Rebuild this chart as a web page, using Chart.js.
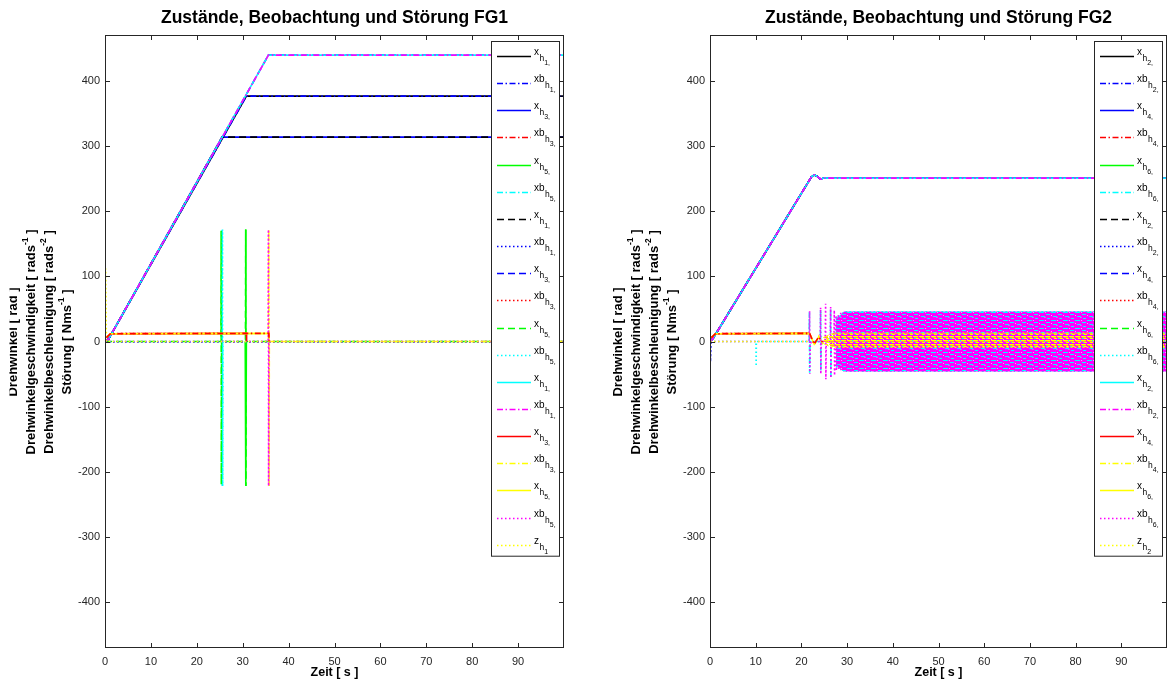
<!DOCTYPE html>
<html>
<head>
<meta charset="utf-8">
<script src="https://cdn.jsdelivr.net/npm/chart.js@4.4.0/dist/chart.umd.min.js"></script>
<style>
  html, body { margin: 0; padding: 0; background: #fff; }
  #wrap { position: relative; width: 1167px; height: 684px; overflow: hidden; }
  canvas { position: absolute; top: 0; }
  #fg1 { left: 0; }
  #fg2 { left: 583px; }
</style>
</head>
<body>
<div id="wrap">
  <canvas id="fg1" width="583" height="684"></canvas>
  <canvas id="fg2" width="584" height="684"></canvas>
</div>
<script>
// axes
const xTicks = [0, 10, 20, 30, 40, 50, 60, 70, 80, 90];
const yTicks = [-400, -300, -200, -100, 0, 100, 200, 300, 400];
const xLimits = [0, 100];
const yLimits = [-471, 471];

// legend text: symbol + joint index (x_{h_{1,}})
const legendSymbols = ['x', 'xb', 'x', 'xb', 'x', 'xb', 'x', 'xb', 'x', 'xb', 'x', 'xb', 'x', 'xb', 'x', 'xb', 'x', 'xb', 'z'];
const fg1Joints = ['1,', '1,', '3,', '3,', '5,', '5,', '1,', '1,', '3,', '3,', '5,', '5,', '1,', '1,', '3,', '3,', '5,', '5,', '1'];
const fg2Joints = ['2,', '2,', '4,', '4,', '6,', '6,', '2,', '2,', '4,', '4,', '6,', '6,', '2,', '2,', '4,', '4,', '6,', '6,', '2'];

// line styles (matlab style strings)
const lineColors = ['#000000', '#0000ff', '#0000ff', '#ff0000', '#00ff00', '#00ffff',
                    '#000000', '#0000ff', '#0000ff', '#ff0000', '#00ff00', '#00ffff',
                    '#00ffff', '#ff00ff', '#ff0000', '#ffff00', '#ffff00', '#ff00ff', '#ffff00'];
const lineStyles = ['-', '-.', '-', '-.', '-', '-.', '--', ':', '--', ':', '--', ':', '-', '-.', '-', '-.', '-', ':', ':'];
const dashes = { '-': [], '--': [7, 4], ':': [1.5, 2.5], '-.': [6, 2.5, 1.5, 2.5] };

// ---------- FG1 data, [t (s), value] ----------
const fg1_xh1 = [[0, 0], [0.8, 4], [30.8, 377], [100, 377]];
const fg1_xbh1 = [[0, 0], [0.8, 4], [30.8, 377], [100, 377]];
const fg1_xh3 = [[0, 0], [0.8, 4], [25.5, 314], [100, 314]];
const fg1_xbh3 = [[0.3, 6], [1.2, 12], [35.7, 12.5], [35.75, 0]];
const fg1_xh5 = [[30.55, 0], [30.65, 172], [30.7, -222], [30.8, 0]];
const fg1_xbh5 = [[25.45, 0], [25.5, 172], [25.55, -222], [25.6, 0]];
const fg1_xh1_2 = [[0, 0], [0.8, 4], [25.5, 314], [100, 314]];
const fg1_xbh1_2 = [[0, -1], [100, -1]];
const fg1_xh3_2 = [[0, 0], [0.8, 4], [35.6, 440], [100, 440]];
const fg1_xbh3_2 = [[0.3, 6], [1.2, 12], [25.5, 12.5], [25.6, 0], [100, 0]];
const fg1_xh5_2 = [[0, 0], [25.25, 0], [25.3, 170], [25.34, -220], [25.4, 0], [30.6, 0], [30.65, 172], [30.7, -222],
                   [30.75, 0], [100, 0]];
const fg1_xbh5_2 = [[0, 0], [25.55, 0], [25.6, 172], [25.65, -222], [25.7, 0], [100, 0]];
const fg1_xh1_3 = [[0, 0], [0.8, 4], [35.6, 440], [100, 440]];
const fg1_xbh1_3 = [[0, 0], [0.8, 4], [35.6, 440], [100, 440]];
const fg1_xh3_3 = [[0.3, 6], [1.2, 12], [30.8, 12.5], [30.85, 0]];
const fg1_xbh3_3 = [[35.6, 0], [35.68, 172], [35.75, -222], [35.8, 0], [100, 0]];
const fg1_xh5_3 = [[0.3, 6], [1.2, 12], [35.7, 12.5], [35.75, 0]];
const fg1_xbh5_3 = [[0, 0], [35.55, 0], [35.6, 172], [35.64, -222], [35.7, 0], [100, 0]];
const fg1_zh1 = [[0.15, 0], [0.15, 112], [0.3, 0], [100, 0]];

// ---------- FG2 data, [t (s), value] ----------
const fg2_xh2 = [[0, 0], [0.7, 5], [21.5, 245], [22.2, 253], [22.8, 256], [23.4, 254], [24.2, 249.5], [25, 251.5], [26, 251], [100, 251]];
const fg2_xbh2 = fg2_xh2;
const fg2_xh4 = fg2_xh2;
const fg2_xbh4 = [[0.3, 6], [1.2, 12], [21.8, 12.5], [22.8, -4], [23.8, 7], [24.6, -1]];
const fg2_xh6 = [[29.5, 0], [100, 0]];
const fg2_xbh6 = [[21.7, 0], [21.75, 45], [21.8, -48], [21.9, 0], [24.15, 0], [24.2, 48], [24.25, -46], [24.3, 0],
                  [26.35, 0], [26.4, 50], [26.45, -54], [26.5, 0], [27.65, 0], [27.7, 38], [27.75, -40], [28.2, 36],
                  [28.25, -38], [28.7, 40], [28.75, -42], [29.2, 44], [29.25, -45]];
const fg2_xh2_2 = fg2_xh2;
const fg2_xbh2_2 = [[0, 15], [0.1, -31], [0.25, 0]];
const fg2_xh4_2 = fg2_xh2;
const fg2_xbh4_2 = [[0.3, 6], [1.2, 12], [21.8, 12.5]];
const fg2_xh6_2 = [[29.5, 0], [100, 0]];
const fg2_xbh6_2 = [[0, 0], [10.05, 0], [10.1, -38], [10.15, 0], [21.8, 0]];
const fg2_xh2_3 = fg2_xh2;
const fg2_xbh2_3 = fg2_xh2;
const fg2_xh4_3 = [[0.3, 6], [1.2, 12], [21.8, 12.5]];
const fg2_xbh4_3 = [[21.8, 12], [22.8, -5], [23.8, 8], [24.6, -3], [25.5, 6], [26.5, -4], [27.5, 6], [28.5, -5], [29.5, 4]];
const fg2_xh6_3 = [[0.3, 6], [1.2, 12], [21.8, 12.5], [22.8, -4], [23.8, 7], [24.6, -2]];
const fg2_xbh6_3 = [[0, 0], [21.7, 0], [21.8, 47], [21.85, -50], [21.95, -2], [24.1, 0], [24.2, 52], [24.25, -50], [24.35, 0],
                    [25.2, 0], [25.3, 58], [25.35, -58], [25.45, 0], [26.3, 0], [26.4, 53], [26.45, -56], [26.55, 0],
                    [27.1, -5], [27.2, 48], [27.25, -52], [27.6, 40], [27.65, -45], [28.1, 42], [28.15, -44],
                    [28.6, 44], [28.65, -46], [29.1, 46], [29.15, -46]];
const fg2_zh2 = [[0, 0], [21.8, 0]];

// oscillation band after ~29 s (envelope) and the yellow core inside it
const fg2_bandTime = [27.6, 28.5, 29.3, 100];
const fg2_bandUpper = [35, 40, 46, 46];
const fg2_bandLower = [-36, -42, -46, -46];
const fg2_coreTime = [24.8, 26, 27, 100];
const fg2_coreUpper = [6, 10, 13, 13];
const fg2_coreLower = [-3, -7, -9, -9];

const fg1Series = [fg1_xh1, fg1_xbh1, fg1_xh3, fg1_xbh3, fg1_xh5, fg1_xbh5, fg1_xh1_2, fg1_xbh1_2, fg1_xh3_2, fg1_xbh3_2,
                   fg1_xh5_2, fg1_xbh5_2, fg1_xh1_3, fg1_xbh1_3, fg1_xh3_3, fg1_xbh3_3, fg1_xh5_3, fg1_xbh5_3, fg1_zh1];
const fg2Series = [fg2_xh2, fg2_xbh2, fg2_xh4, fg2_xbh4, fg2_xh6, fg2_xbh6, fg2_xh2_2, fg2_xbh2_2, fg2_xh4_2, fg2_xbh4_2,
                   fg2_xh6_2, fg2_xbh6_2, fg2_xh2_3, fg2_xbh2_3, fg2_xh4_3, fg2_xbh4_3, fg2_xh6_3, fg2_xbh6_3, fg2_zh2];

const FONT = '"Liberation Sans", Arial, Helvetica, sans-serif';

function stripes(w, h, bg, rows) {
  const c = document.createElement('canvas');
  c.width = w; c.height = h;
  const g = c.getContext('2d');
  if (bg) { g.fillStyle = bg; g.fillRect(0, 0, w, h); }
  rows.forEach(r => { g.fillStyle = r[0]; g.fillRect(r[1], r[2], r[3], r[4]); });
  return g.createPattern(c, 'repeat');
}

function lineSet(points, i) {
  return {
    data: points.map(p => ({ x: p[0], y: p[1] })),
    borderColor: lineColors[i],
    borderDash: dashes[lineStyles[i]],
    borderWidth: 1.6,
    pointRadius: 0,
    fill: false,
    // matlab draws later lines on top; red dash-dot sits on the yellow line
    order: i === 3 ? -100 : -i
  };
}

function bandSets(time, upper, lower, pattern, edge, order) {
  return [
    { data: time.map((t, k) => ({ x: t, y: upper[k] })), borderColor: edge, borderDash: [2, 2], borderWidth: 1,
      pointRadius: 0, fill: '+1', backgroundColor: pattern, order: order },
    { data: time.map((t, k) => ({ x: t, y: lower[k] })), borderColor: edge, borderDash: [2, 2], borderWidth: 1,
      pointRadius: 0, fill: false, order: order }
  ];
}

// title, labels, inward ticks, box and legend
const decor = {
  id: 'decor',
  afterDraw(chart, args, opts) {
    const ctx = chart.ctx;
    const a = chart.chartArea;
    const xs = chart.scales.x, ys = chart.scales.y;
    ctx.save();

    // ticks (inward, all four sides) and box
    ctx.strokeStyle = '#262626';
    ctx.lineWidth = 1;
    ctx.beginPath();
    xs.ticks.forEach(t => {
      const px = Math.round(xs.getPixelForValue(t.value)) + 0.5;
      ctx.moveTo(px, a.bottom); ctx.lineTo(px, a.bottom - 5);
      ctx.moveTo(px, a.top); ctx.lineTo(px, a.top + 5);
    });
    ys.ticks.forEach(t => {
      const py = Math.round(ys.getPixelForValue(t.value)) + 0.5;
      ctx.moveTo(a.left, py); ctx.lineTo(a.left + 5, py);
      ctx.moveTo(a.right, py); ctx.lineTo(a.right - 5, py);
    });
    ctx.stroke();
    ctx.strokeRect(a.left + 0.5, a.top + 0.5, a.right - a.left - 1, a.bottom - a.top - 1);

    // title
    ctx.fillStyle = '#000';
    ctx.textAlign = 'center';
    ctx.textBaseline = 'middle';
    ctx.font = 'bold 17.5px ' + FONT;
    ctx.fillText(opts.title, (a.left + a.right) / 2, 18);

    // x label
    ctx.font = 'bold 12.5px ' + FONT;
    ctx.fillText('Zeit [ s ]', (a.left + a.right) / 2, 673);

    // y label, four rotated lines (the outer one is cut by the figure edge in FG1)
    const yl = [
      [['Drehwinkel [ rad ]', 0]],
      [['Drehwinkelgeschwindigkeit [ rads', 0], ['-1', 1], [' ]', 0]],
      [['Drehwinkelbeschleunigung [ rads', 0], ['-2', 1], [' ]', 0]],
      [['Störung [ Nms', 0], ['-1', 1], [' ]', 0]]
    ];
    const offs = [-92, -74, -56, -38];
    const cy = 342;
    ctx.save();
    ctx.beginPath();
    ctx.rect(opts.labelClip, 0, chart.width, chart.height);
    ctx.clip();
    yl.forEach((segs, li) => {
      ctx.save();
      ctx.translate(a.left + offs[li], cy);
      ctx.rotate(-Math.PI / 2);
      ctx.textAlign = 'left';
      const fonts = ['bold 13px ' + FONT, 'bold 8.5px ' + FONT];
      let w = 0;
      segs.forEach(s => { ctx.font = fonts[s[1]]; w += ctx.measureText(s[0]).width; });
      let px = -w / 2;
      segs.forEach(s => {
        ctx.font = fonts[s[1]];
        ctx.fillText(s[0], px, s[1] ? -5.5 : 0);
        px += ctx.measureText(s[0]).width;
      });
      ctx.restore();
    });
    ctx.restore();

    // legend
    const bw = 69, bx = a.right - 4 - bw, by = a.top + 6, step = 27.15;
    const n = opts.symbols.length;
    const bh = 15 + step * (n - 1) + 12;
    ctx.fillStyle = '#fff';
    ctx.fillRect(bx, by, bw, bh);
    ctx.strokeStyle = '#262626';
    ctx.strokeRect(bx + 0.5, by + 0.5, bw - 1, bh - 1);
    for (let i = 0; i < n; i++) {
      const ds = chart.data.datasets[i];
      const ly = Math.round(by + 15 + step * i) + 0.5;
      ctx.save();
      ctx.strokeStyle = ds.borderColor;
      ctx.lineWidth = 1.6;
      ctx.setLineDash(ds.borderDash);
      ctx.beginPath();
      ctx.moveTo(bx + 6, ly); ctx.lineTo(bx + 40, ly);
      ctx.stroke();
      ctx.restore();
      ctx.fillStyle = '#000';
      ctx.textAlign = 'left';
      ctx.textBaseline = 'alphabetic';
      let tx = bx + 43;
      ctx.font = '10px ' + FONT;
      ctx.fillText(opts.symbols[i], tx, ly - 2);
      tx += ctx.measureText(opts.symbols[i]).width + 0.5;
      ctx.font = '8.5px ' + FONT;
      ctx.fillText('h', tx, ly + 4.5);
      tx += ctx.measureText('h').width;
      ctx.font = '7px ' + FONT;
      ctx.fillText(opts.joints[i], tx, ly + 8.5);
    }
    ctx.restore();
  }
};

function makeChart(id, datasets, title, joints, padRight, axisWidth, labelClip) {
  return new Chart(document.getElementById(id), {
    type: 'line',
    data: { datasets: datasets },
    options: {
      responsive: false,
      animation: false,
      devicePixelRatio: 1,
      layout: { padding: { left: 0, right: padRight, top: 35, bottom: 0 } },
      scales: {
        x: {
          type: 'linear', min: xLimits[0], max: xLimits[1],
          grid: { display: false, drawTicks: false }, border: { display: false },
          ticks: { color: '#262626', font: { family: FONT, size: 11 }, padding: 7, maxRotation: 0 },
          afterBuildTicks: s => { s.ticks = xTicks.map(v => ({ value: v })); },
          afterFit: s => { s.height = 36; }
        },
        y: {
          type: 'linear', min: yLimits[0], max: yLimits[1],
          grid: { display: false, drawTicks: false }, border: { display: false },
          ticks: { color: '#262626', font: { family: FONT, size: 11 }, padding: 5 },
          afterBuildTicks: s => { s.ticks = yTicks.map(v => ({ value: v })); },
          afterFit: s => { s.width = axisWidth; }
        }
      },
      plugins: {
        legend: { display: false },
        tooltip: { enabled: false },
        decor: { title: title, symbols: legendSymbols, joints: joints, labelClip: labelClip }
      }
    },
    plugins: [decor]
  });
}

const bandPattern = stripes(12, 8, '#ff00ff', [
  ['#00ffff', 0, 0, 5, 1], ['#00ffff', 7, 2, 4, 1], ['#00ffff', 2, 4, 4, 1], ['#00ffff', 8, 6, 3, 1],
  ['#e8b0ff', 6, 0, 1, 1], ['#e8b0ff', 0, 3, 1, 1], ['#c070ff', 5, 5, 2, 1]]);
const corePattern = stripes(6, 4, null, [['#ffff00', 0, 0, 5, 1], ['#ffa030', 1, 1, 4, 1], ['#ffff00', 3, 2, 3, 1]]);

const fg1Sets = fg1Series.map((s, i) => lineSet(s, i));
makeChart('fg1', fg1Sets, 'Zustände, Beobachtung und Störung FG1', fg1Joints, 19, 105, 9.5);

const fg2Sets = fg2Series.map((s, i) => lineSet(s, i))
  .concat(bandSets(fg2_bandTime, fg2_bandUpper, fg2_bandLower, bandPattern, '#00ffff', -50))
  .concat(bandSets(fg2_coreTime, fg2_coreUpper, fg2_coreLower, corePattern, '#ffff00', -60));
makeChart('fg2', fg2Sets, 'Zustände, Beobachtung und Störung FG2', fg2Joints, 0, 127, 0);
</script>
</body>
</html>
